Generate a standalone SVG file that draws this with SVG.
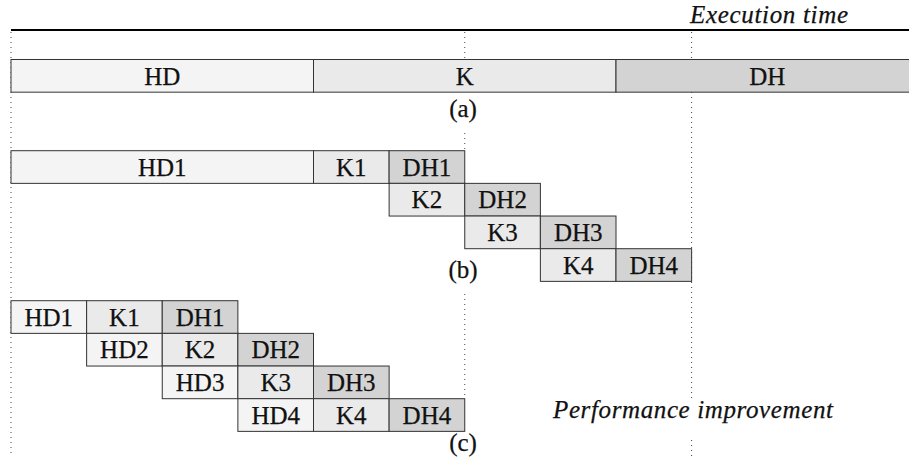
<svg xmlns="http://www.w3.org/2000/svg" width="909" height="468" viewBox="0 0 909 468">
<style>
  .hd { fill: #f4f4f4; stroke: #333; stroke-width: 1; }
  .k  { fill: #eaeaea; stroke: #333; stroke-width: 1; }
  .dh { fill: #d3d3d3; stroke: #333; stroke-width: 1; }
  .guide { stroke: #444; stroke-width: 1; stroke-dasharray: 1 4; fill: none; }
  text { font-family: 'Liberation Serif', 'Times New Roman', serif; fill: #111; stroke: #111; stroke-width: 0.25; }
</style>
<rect width="909" height="468" fill="#fff"/>
<g id="axis">
  <line x1="11" y1="30" x2="909" y2="30" stroke="#000" stroke-width="2"/>
  <text x="690" y="22.5" font-style="italic" font-size="25" textLength="158" lengthAdjust="spacing">Execution time</text>
</g>
<g id="guides">
  <line class="guide" x1="11" y1="32" x2="11" y2="456"/>
  <line class="guide" x1="464.75" y1="32" x2="464.75" y2="59.5"/>
  <line class="guide" x1="464.75" y1="133" x2="464.75" y2="150.7"/>
  <line class="guide" x1="464.75" y1="294" x2="464.75" y2="398.7"/>
  <line class="guide" x1="691.6" y1="32" x2="691.6" y2="398"/>
  <line class="guide" x1="691.6" y1="440" x2="691.6" y2="456"/>
</g>
<g id="a" font-size="25" text-anchor="middle">
  <g id="a-HD"><rect class="hd" x="11" y="59.5" width="302.5" height="32.67"/><text x="162.25" y="84.5">HD</text></g>
  <g id="a-K"><rect class="k" x="313.5" y="59.5" width="302.5" height="32.67"/><text x="464.75" y="84.5">K</text></g>
  <g id="a-DH"><rect class="dh" x="616" y="59.5" width="302.5" height="32.67"/><text x="767.25" y="84.5">DH</text></g>
  <text x="463" y="117">(a)</text>
</g>
<g id="b" font-size="25" text-anchor="middle">
  <g id="b-HD1"><rect class="hd" x="11" y="150.7" width="302.5" height="32.67"/><text x="162.25" y="175.5">HD1</text></g>
  <g id="b-K1"><rect class="k" x="313.5" y="150.7" width="75.625" height="32.67"/><text x="351.3" y="175.5">K1</text></g>
  <g id="b-DH1"><rect class="dh" x="389.125" y="150.7" width="75.625" height="32.67"/><text x="426.9" y="175.5">DH1</text></g>
  <g id="b-K2"><rect class="k" x="389.125" y="183.37" width="75.625" height="32.67"/><text x="426.9" y="208.2">K2</text></g>
  <g id="b-DH2"><rect class="dh" x="464.75" y="183.37" width="75.625" height="32.67"/><text x="502.6" y="208.2">DH2</text></g>
  <g id="b-K3"><rect class="k" x="464.75" y="216.03" width="75.625" height="32.67"/><text x="502.6" y="240.8">K3</text></g>
  <g id="b-DH3"><rect class="dh" x="540.375" y="216.03" width="75.625" height="32.67"/><text x="578.2" y="240.8">DH3</text></g>
  <g id="b-K4"><rect class="k" x="540.375" y="248.7" width="75.625" height="32.67"/><text x="578.2" y="273.5">K4</text></g>
  <g id="b-DH4"><rect class="dh" x="616" y="248.7" width="75.625" height="32.67"/><text x="653.8" y="273.5">DH4</text></g>
  <text x="463" y="278">(b)</text>
</g>
<g id="c" font-size="25" text-anchor="middle">
  <g id="c-HD1"><rect class="hd" x="11" y="300.7" width="75.625" height="32.67"/><text x="48.8" y="325.5">HD1</text></g>
  <g id="c-K1"><rect class="k" x="86.625" y="300.7" width="75.625" height="32.67"/><text x="124.4" y="325.5">K1</text></g>
  <g id="c-DH1"><rect class="dh" x="162.25" y="300.7" width="75.625" height="32.67"/><text x="200.1" y="325.5">DH1</text></g>
  <g id="c-HD2"><rect class="hd" x="86.625" y="333.37" width="75.625" height="32.67"/><text x="124.4" y="358.2">HD2</text></g>
  <g id="c-K2"><rect class="k" x="162.25" y="333.37" width="75.625" height="32.67"/><text x="200.1" y="358.2">K2</text></g>
  <g id="c-DH2"><rect class="dh" x="237.875" y="333.37" width="75.625" height="32.67"/><text x="275.7" y="358.2">DH2</text></g>
  <g id="c-HD3"><rect class="hd" x="162.25" y="366.03" width="75.625" height="32.67"/><text x="200.1" y="390.8">HD3</text></g>
  <g id="c-K3"><rect class="k" x="237.875" y="366.03" width="75.625" height="32.67"/><text x="275.7" y="390.8">K3</text></g>
  <g id="c-DH3"><rect class="dh" x="313.5" y="366.03" width="75.625" height="32.67"/><text x="351.3" y="390.8">DH3</text></g>
  <g id="c-HD4"><rect class="hd" x="237.875" y="398.7" width="75.625" height="32.67"/><text x="275.7" y="423.5">HD4</text></g>
  <g id="c-K4"><rect class="k" x="313.5" y="398.7" width="75.625" height="32.67"/><text x="351.3" y="423.5">K4</text></g>
  <g id="c-DH4"><rect class="dh" x="389.125" y="398.7" width="75.625" height="32.67"/><text x="426.9" y="423.5">DH4</text></g>
  <text x="463" y="451">(c)</text>
</g>
<g id="improvement">
  <text x="553" y="418" font-style="italic" font-size="25" textLength="280" lengthAdjust="spacing">Performance improvement</text>
</g>
</svg>
